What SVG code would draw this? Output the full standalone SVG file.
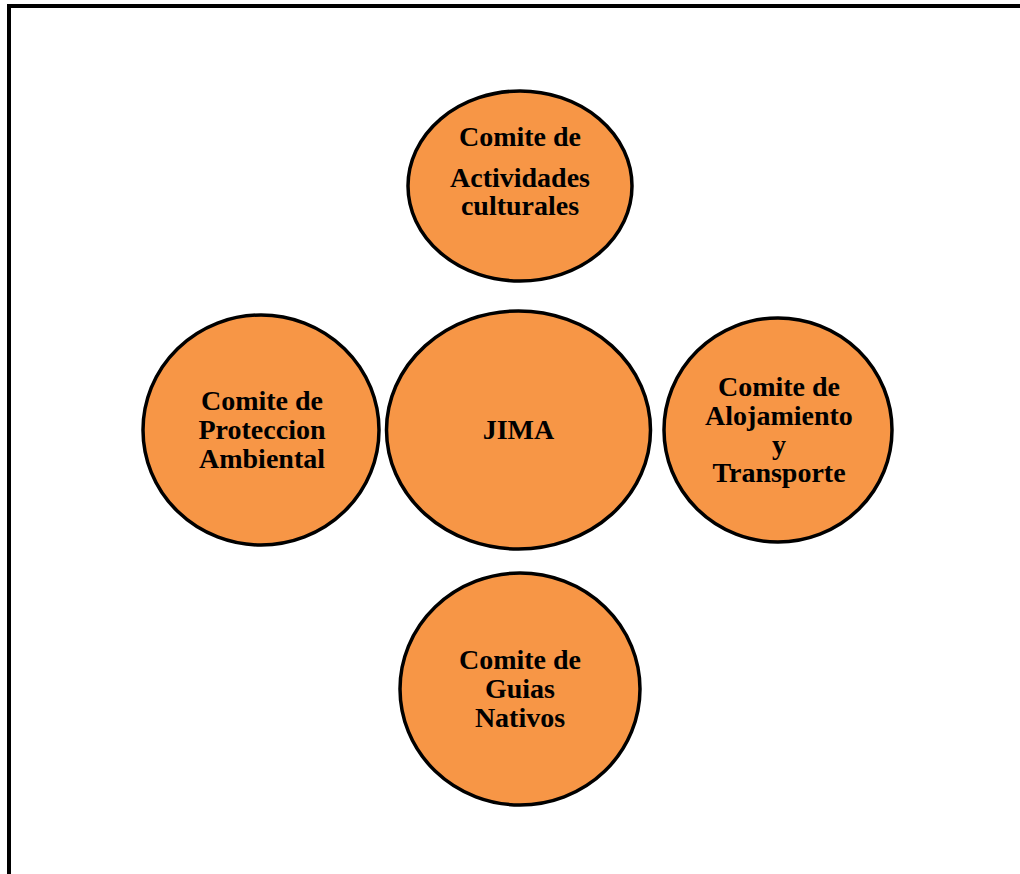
<svg xmlns="http://www.w3.org/2000/svg" width="1020" height="874" viewBox="0 0 1020 874">
<style>
.n{fill:#F79646;stroke:#000;stroke-width:3.5}
.t{font-family:"Liberation Serif","Times New Roman",serif;font-weight:bold;font-size:28px;fill:#000;text-anchor:middle}
</style>
<rect width="1020" height="874" fill="#fff"/>
<g id="border" fill="none" stroke="#000" stroke-width="4">
<polyline points="9,874 9,6 1020,6"/>
</g>
<g id="connectors"></g>
<g id="top">
<ellipse class="n" cx="520" cy="186" rx="112" ry="95"/>
<text class="t" x="520" y="146">Comite de</text>
<text class="t" x="520" y="187">Actividades</text>
<text class="t" x="520" y="215">culturales</text>
</g>
<g id="jima">
<ellipse class="n" cx="518.5" cy="430" rx="132" ry="119"/>
<text class="t" x="518.5" y="439">JIMA</text>
</g>
<g id="left">
<ellipse class="n" cx="261" cy="430" rx="118" ry="115"/>
<text class="t" x="262" y="410">Comite de</text>
<text class="t" x="262" y="439">Proteccion</text>
<text class="t" x="262" y="468">Ambiental</text>
</g>
<g id="right">
<ellipse class="n" cx="778" cy="430" rx="114" ry="112"/>
<text class="t" x="779" y="396">Comite de</text>
<text class="t" x="779" y="425">Alojamiento</text>
<text class="t" x="779" y="454">y</text>
<text class="t" x="779" y="482">Transporte</text>
</g>
<g id="bottom">
<ellipse class="n" cx="520" cy="689" rx="120" ry="116"/>
<text class="t" x="520" y="669">Comite de</text>
<text class="t" x="520" y="698">Guias</text>
<text class="t" x="520" y="727">Nativos</text>
</g>
</svg>
